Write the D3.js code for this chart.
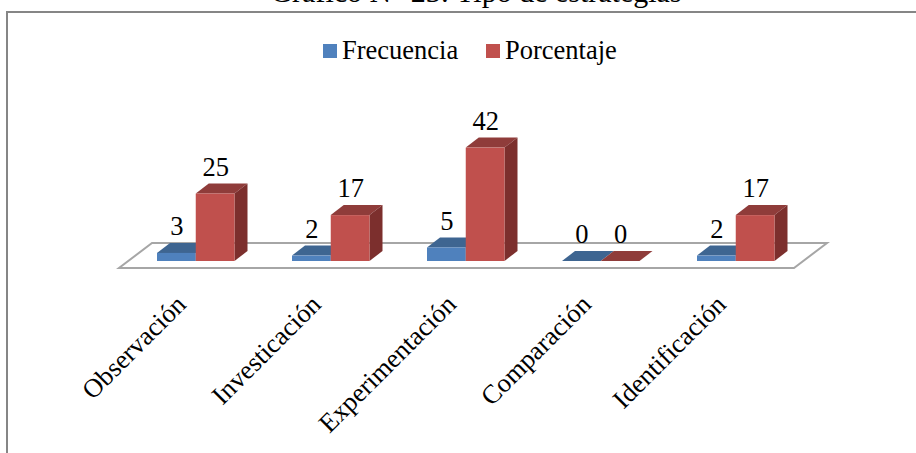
<!DOCTYPE html>
<html><head><meta charset="utf-8">
<script src="https://cdn.jsdelivr.net/npm/d3@7"></script>
<style>html,body{margin:0;padding:0;background:#fff;overflow:hidden}svg{display:block}text{font-family:"Liberation Serif","Times New Roman",serif;fill:#000}</style>
</head><body><svg id="c" width="916" height="453"></svg>
<script>
const titleText = "Gráfico N° 23: Tipo de estrategias";
const categories = ["Observación","Investicación","Experimentación","Comparación","Identificación"];
const seriesNames = ["Frecuencia","Porcentaje"];
const frecuencia = [3,2,5,0,2];
const porcentaje = [25,17,42,0,17];
const seriesValues = [frecuencia, porcentaje];
const frontColors = ["#4F81BD","#C0504D"];
const topColors = ["#3E6591","#8F3C3A"];
const sideColors = ["#34567C","#7C2F2D"];

const svg = d3.select("#c");
const fontSize = 26.5, depthX = 13, depthY = 10;
const x0 = d3.scaleBand().domain(categories).range([119,794]);
const x1 = d3.scaleBand().domain(seriesNames).range([38,115.5]);
const y = d3.scaleLinear().domain([0,42]).range([261,147.6]);

// frame: only the top and left edges fall inside the crop
svg.append("path").attr("d","M7,453V12H916").attr("fill","none")
  .attr("stroke","#868686").attr("stroke-width",2);

svg.append("text").attr("x",476).attr("y",2).attr("text-anchor","middle")
  .attr("font-size",30).text(titleText);

// floor
svg.append("path")
  .attr("d",d3.line()([[x0.range()[0],268],[x0.range()[1],268],[x0.range()[1]+33,243],[x0.range()[0]+33,243]])+"Z")
  .attr("fill","#fff").attr("stroke","#A6A6A6").attr("stroke-width",2);

// bars
const rows = categories.flatMap((c,i)=>seriesNames.map((s,j)=>({c,s,j,v:seriesValues[j][i]})));
const bars = svg.append("g").selectAll("g").data(rows).join("g");
const L = d=>x0(d.c)+x1(d.s), W = x1.bandwidth();
const poly = pts=>d3.line()(pts)+"Z";
bars.append("path").attr("fill",d=>topColors[d.j]).attr("d",d=>{const l=L(d),t=y(d.v);
  return poly([[l,t],[l+W,t],[l+W+depthX,t-depthY],[l+depthX,t-depthY]]);});
bars.append("path").attr("fill",d=>sideColors[d.j]).attr("d",d=>{const l=L(d)+W,t=y(d.v),b=y(0);
  return poly([[l,t],[l+depthX,t-depthY],[l+depthX,b-depthY],[l,b]]);});
bars.append("rect").attr("fill",d=>frontColors[d.j]).attr("x",L).attr("width",W)
  .attr("y",d=>y(d.v)).attr("height",d=>y(0)-y(d.v));
bars.append("text").attr("text-anchor","middle").attr("font-size",fontSize)
  .attr("x",d=>L(d)+W/2+depthX/2-6).attr("y",d=>y(d.v)-depthY-8).text(d=>d.v);

// category labels
svg.append("g").selectAll("text").data(categories).join("text")
  .attr("text-anchor","end").attr("font-size",fontSize)
  .attr("transform",c=>`translate(${x0(c)+x0.bandwidth()/2+1},${306}) rotate(-45)`)
  .text(c=>c);

// legend
const legendX = [323,486], legendText = [342,505];
const lg = svg.append("g").selectAll("g").data(seriesNames).join("g");
lg.append("rect").attr("x",(d,i)=>legendX[i]).attr("y",44).attr("width",14).attr("height",14)
  .attr("fill",(d,i)=>frontColors[i]);
lg.append("text").attr("x",(d,i)=>legendText[i]).attr("y",59).attr("font-size",fontSize).text(d=>d);
</script></body></html>
